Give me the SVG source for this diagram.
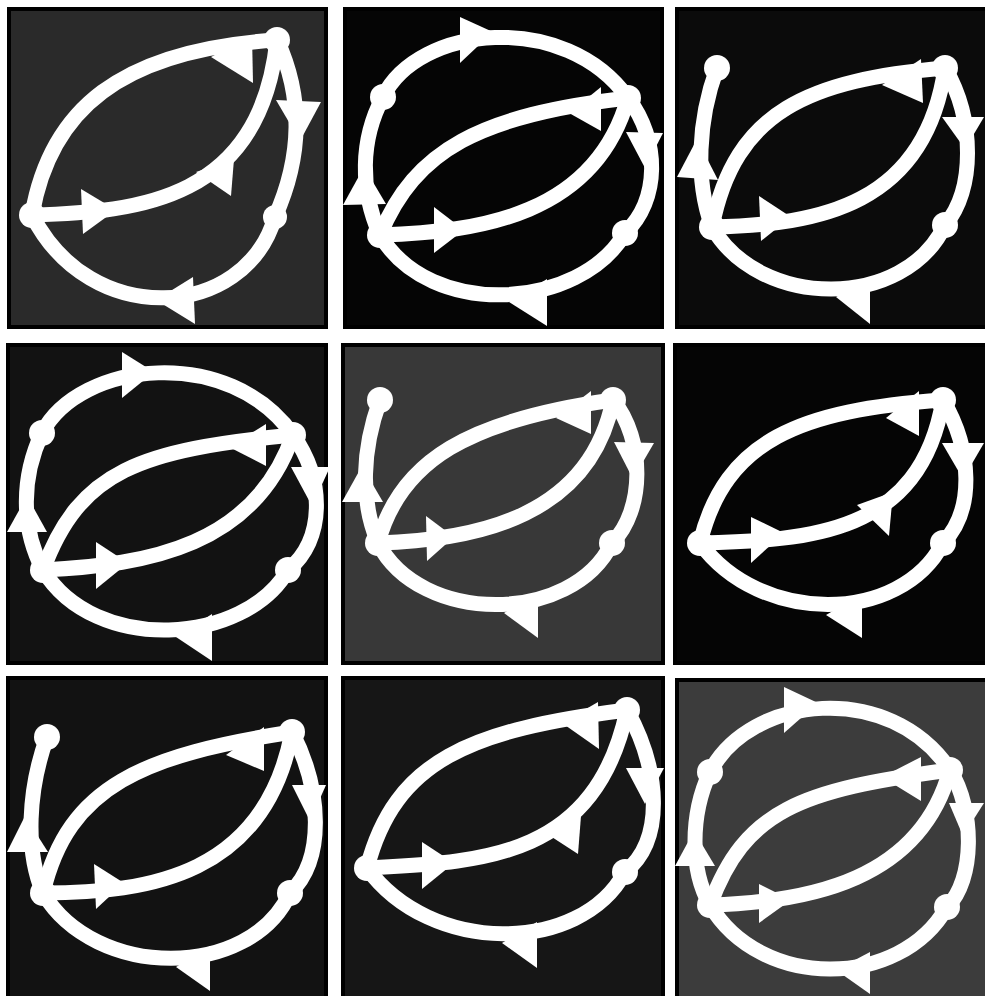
<svg xmlns="http://www.w3.org/2000/svg" width="985" height="996" viewBox="0 0 985 996">
<defs>
<style>
.bg{stroke:#000;stroke-width:4}
.e{fill:none;stroke:#fff;stroke-width:15;stroke-linecap:round}
.a{fill:#fff}
.n{fill:#fff}
</style>
</defs>
<rect width="985" height="996" fill="#fff"/>

<g id="panel1">
<rect class="bg" x="9" y="9" width="317" height="318" fill="#2a2a2a"/>
<g id="p1-connectors">
<path class="e" d="M32,215 C50,110 120,50 277,40"/>
<path class="e" d="M277,40 C300,90 305,150 275,217"/>
<path class="e" d="M275,217 C245,320 90,330 32,215"/>
<path class="e" d="M32,215 C140,212 260,200 277,40"/>
<polygon class="a" points="211,57 252,35 253,83"/>
<polygon class="a" points="276,100 321,102 300,141"/>
<polygon class="a" points="156,300 193,277 195,324"/>
<polygon class="a" points="81,189 83,234 116,210"/>
<polygon class="a" points="196,172 234,159 231,196"/>
</g>
<g id="p1-A"><circle class="n" cx="32" cy="215" r="13"/></g>
<g id="p1-B"><circle class="n" cx="277" cy="40" r="13"/></g>
<g id="p1-C"><circle class="n" cx="275" cy="217" r="12"/></g>
</g>

<g id="panel2">
<rect class="bg" x="345" y="9" width="317" height="318" fill="#050505"/>
<g id="p2-connectors">
<path class="e" d="M383,97 C418,25 565,10 628,98"/>
<path class="e" d="M628,98 C660,140 660,200 625,233"/>
<path class="e" d="M625,233 C580,310 430,320 380,235"/>
<path class="e" d="M383,97 C360,140 360,190 380,235"/>
<path class="e" d="M380,235 C415,150 480,115 628,98"/>
<path class="e" d="M380,235 C480,232 595,215 628,98"/>
<polygon class="a" points="460,17 460,63 493,32"/>
<polygon class="a" points="626,132 663,133 645,168"/>
<polygon class="a" points="547,279 547,326 509,302"/>
<polygon class="a" points="343,205 386,204 364,167"/>
<polygon class="a" points="569,113 601,87 601,131"/>
<polygon class="a" points="434,207 434,253 464,230"/>
</g>
<g id="p2-D"><circle class="n" cx="383" cy="97" r="13"/></g>
<g id="p2-A"><circle class="n" cx="380" cy="235" r="13"/></g>
<g id="p2-B"><circle class="n" cx="628" cy="98" r="13"/></g>
<g id="p2-C"><circle class="n" cx="625" cy="233" r="13"/></g>
</g>

<g id="panel3">
<rect class="bg" x="677" y="9" width="310" height="318" fill="#0b0b0b"/>
<g id="p3-connectors">
<path class="e" d="M717,68 C698,120 695,180 712,227"/>
<path class="e" d="M712,227 C735,110 810,80 945,68"/>
<path class="e" d="M945,68 C975,120 975,190 945,225"/>
<path class="e" d="M945,225 C905,310 760,310 712,227"/>
<path class="e" d="M712,227 C820,225 925,205 945,68"/>
<polygon class="a" points="677,177 718,180 697,139"/>
<polygon class="a" points="882,85 921,59 923,103"/>
<polygon class="a" points="942,117 984,117 965,149"/>
<polygon class="a" points="870,277 870,324 836,297"/>
<polygon class="a" points="759,196 761,241 791,217"/>
</g>
<g id="p3-E"><circle class="n" cx="717" cy="68" r="13"/></g>
<g id="p3-A"><circle class="n" cx="712" cy="227" r="13"/></g>
<g id="p3-B"><circle class="n" cx="945" cy="68" r="13"/></g>
<g id="p3-C"><circle class="n" cx="945" cy="225" r="13"/></g>
</g>

<g id="panel4">
<rect class="bg" x="8" y="345" width="318" height="318" fill="#121212"/>
<g id="p4-connectors">
<path class="e" d="M42,433 C80,360 230,345 293,435"/>
<path class="e" d="M293,435 C325,480 325,540 288,570"/>
<path class="e" d="M288,570 C245,645 95,655 43,570"/>
<path class="e" d="M42,433 C20,480 22,530 43,570"/>
<path class="e" d="M43,570 C80,470 140,450 293,435"/>
<path class="e" d="M43,570 C150,565 255,545 293,435"/>
<polygon class="a" points="122,352 122,398 154,372"/>
<polygon class="a" points="291,467 330,467 312,506"/>
<polygon class="a" points="212,614 212,661 176,637"/>
<polygon class="a" points="7,532 47,532 27,496"/>
<polygon class="a" points="229,447 266,424 266,466"/>
<polygon class="a" points="96,542 96,589 128,563"/>
</g>
<g id="p4-D"><circle class="n" cx="42" cy="433" r="13"/></g>
<g id="p4-A"><circle class="n" cx="43" cy="570" r="13"/></g>
<g id="p4-B"><circle class="n" cx="293" cy="435" r="13"/></g>
<g id="p4-C"><circle class="n" cx="288" cy="570" r="13"/></g>
</g>

<g id="panel5">
<rect class="bg" x="343" y="345" width="320" height="318" fill="#383838"/>
<g id="p5-connectors">
<path class="e" d="M380,400 C362,450 360,500 378,543"/>
<path class="e" d="M378,543 C400,460 470,420 613,400"/>
<path class="e" d="M613,400 C645,440 645,510 612,543"/>
<path class="e" d="M612,543 C572,625 420,625 378,543"/>
<path class="e" d="M378,543 C480,540 590,515 613,400"/>
<polygon class="a" points="342,502 383,502 362,466"/>
<polygon class="a" points="556,418 591,391 591,434"/>
<polygon class="a" points="614,442 654,443 633,479"/>
<polygon class="a" points="538,592 538,638 504,613"/>
<polygon class="a" points="426,516 427,561 454,537"/>
</g>
<g id="p5-E"><circle class="n" cx="380" cy="400" r="13"/></g>
<g id="p5-A"><circle class="n" cx="378" cy="543" r="13"/></g>
<g id="p5-B"><circle class="n" cx="613" cy="400" r="13"/></g>
<g id="p5-C"><circle class="n" cx="612" cy="543" r="13"/></g>
</g>

<g id="panel6">
<rect class="bg" x="675" y="345" width="312" height="318" fill="#050505"/>
<g id="p6-connectors">
<path class="e" d="M700,543 C725,440 800,410 943,400"/>
<path class="e" d="M943,400 C972,450 975,510 943,543"/>
<path class="e" d="M943,543 C900,625 760,625 700,543"/>
<path class="e" d="M700,543 C810,540 920,535 943,400"/>
<polygon class="a" points="886,418 919,391 919,436"/>
<polygon class="a" points="942,443 984,443 963,479"/>
<polygon class="a" points="862,594 862,638 826,615"/>
<polygon class="a" points="751,517 751,563 784,533"/>
<polygon class="a" points="857,505 893,492 889,536"/>
</g>
<g id="p6-A"><circle class="n" cx="700" cy="543" r="13"/></g>
<g id="p6-B"><circle class="n" cx="943" cy="400" r="13"/></g>
<g id="p6-C"><circle class="n" cx="943" cy="543" r="13"/></g>
</g>

<g id="panel7">
<rect class="bg" x="8" y="678" width="318" height="320" fill="#121212"/>
<g id="p7-connectors">
<path class="e" d="M47,737 C28,790 25,850 43,893"/>
<path class="e" d="M43,893 C68,785 145,755 292,732"/>
<path class="e" d="M292,732 C322,790 325,860 290,893"/>
<path class="e" d="M290,893 C250,980 95,980 43,893"/>
<path class="e" d="M43,893 C150,893 265,875 292,732"/>
<polygon class="a" points="7,852 48,852 25,816"/>
<polygon class="a" points="226,755 264,727 264,771"/>
<polygon class="a" points="292,785 326,785 310,821"/>
<polygon class="a" points="210,946 210,991 176,967"/>
<polygon class="a" points="94,864 96,909 124,883"/>
</g>
<g id="p7-E"><circle class="n" cx="47" cy="737" r="13"/></g>
<g id="p7-A"><circle class="n" cx="43" cy="893" r="13"/></g>
<g id="p7-B"><circle class="n" cx="292" cy="732" r="13"/></g>
<g id="p7-C"><circle class="n" cx="290" cy="893" r="13"/></g>
</g>

<g id="panel8">
<rect class="bg" x="343" y="678" width="320" height="320" fill="#161616"/>
<g id="p8-connectors">
<path class="e" d="M367,868 C395,760 470,730 627,710"/>
<path class="e" d="M627,710 C660,770 665,840 625,872"/>
<path class="e" d="M625,872 C580,955 430,955 367,868"/>
<path class="e" d="M367,868 C480,862 595,860 627,710"/>
<polygon class="a" points="562,723 598,702 599,749"/>
<polygon class="a" points="626,768 664,768 645,804"/>
<polygon class="a" points="537,922 537,968 502,943"/>
<polygon class="a" points="422,842 422,889 454,863"/>
<polygon class="a" points="541,830 581,816 578,854"/>
</g>
<g id="p8-A"><circle class="n" cx="367" cy="868" r="13"/></g>
<g id="p8-B"><circle class="n" cx="627" cy="710" r="13"/></g>
<g id="p8-C"><circle class="n" cx="625" cy="872" r="13"/></g>
</g>

<g id="panel9">
<rect class="bg" x="677" y="680" width="310" height="318" fill="#3c3c3c"/>
<g id="p9-connectors">
<path class="e" d="M710,772 C750,695 890,680 950,770"/>
<path class="e" d="M950,770 C975,810 975,880 947,907"/>
<path class="e" d="M947,907 C900,990 760,990 710,905"/>
<path class="e" d="M710,772 C690,815 690,870 710,905"/>
<path class="e" d="M710,905 C745,810 800,790 950,770"/>
<path class="e" d="M710,905 C810,902 920,880 950,770"/>
<polygon class="a" points="784,687 784,733 818,703"/>
<polygon class="a" points="949,803 984,803 963,836"/>
<polygon class="a" points="870,952 870,994 836,970"/>
<polygon class="a" points="675,866 715,866 694,831"/>
<polygon class="a" points="882,777 921,757 921,801"/>
<polygon class="a" points="759,884 759,923 791,900"/>
</g>
<g id="p9-D"><circle class="n" cx="710" cy="772" r="13"/></g>
<g id="p9-A"><circle class="n" cx="710" cy="905" r="13"/></g>
<g id="p9-B"><circle class="n" cx="950" cy="770" r="13"/></g>
<g id="p9-C"><circle class="n" cx="947" cy="907" r="13"/></g>
</g>
</svg>
